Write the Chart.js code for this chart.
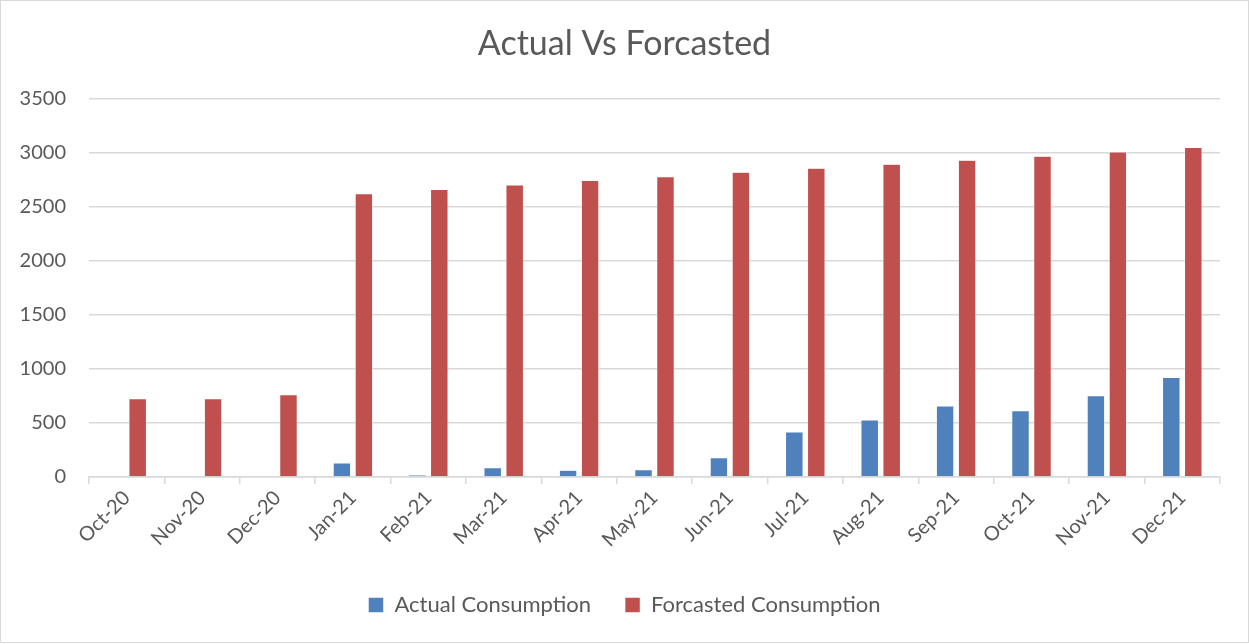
<!DOCTYPE html>
<html>
<head>
<meta charset="utf-8">
<script src="https://cdn.jsdelivr.net/npm/chart.js@4"></script>
<style>
  html, body { margin: 0; padding: 0; background: #fff; }
  #wrap { width: 1247px; height: 641px; border: 1px solid #d9d9d9; }
</style>
</head>
<body>
<div id="wrap"><canvas id="consumptionChart" width="1247" height="641"></canvas></div>
<script>
  // chart data
  const months = ['Oct-20', 'Nov-20', 'Dec-20', 'Jan-21', 'Feb-21', 'Mar-21', 'Apr-21',
      'May-21', 'Jun-21', 'Jul-21', 'Aug-21', 'Sep-21', 'Oct-21', 'Nov-21', 'Dec-21'];
  const actualConsumption = [null, null, null, 130, 18, 85, 62, 66, 178, 416, 527, 658, 614, 751, 921];
  const forecastedConsumption = [725, 725, 762, 2622, 2660, 2702, 2743, 2778, 2820, 2858, 2895, 2932, 2969, 3007, 3050];
  const yTicks = [0, 500, 1000, 1500, 2000, 2500, 3000, 3500];

  const textColor = '#595959';
  const gridColor = '#d9d9d9';
  const fontFamily = 'Lato, "Open Sans", sans-serif';

  const ctx = document.getElementById('consumptionChart').getContext('2d');

  new Chart(ctx, {
      type: 'bar',
      data: {
          labels: months,
          datasets: [{
              label: 'Actual Consumption',
              data: actualConsumption,
              backgroundColor: '#4f81bd',
              borderColor: '#ffffff',
              borderWidth: 0.5
          }, {
              label: 'Forcasted Consumption',
              data: forecastedConsumption,
              backgroundColor: '#c0504d',
              borderColor: '#ffffff',
              borderWidth: 0.5
          }]
      },
      options: {
          responsive: false,
          animation: false,
          categoryPercentage: 0.583,
          barPercentage: 0.795,
          layout: {
              padding: { left: 0, right: 0, top: 0, bottom: 16 }
          },
          plugins: {
              title: {
                  display: true,
                  text: 'Actual Vs Forcasted',
                  color: textColor,
                  font: { family: fontFamily, size: 34, weight: 'normal' },
                  padding: { top: 23, bottom: 34 }
              },
              legend: {
                  position: 'bottom',
                  labels: {
                      color: textColor,
                      font: { family: fontFamily, size: 22 },
                      boxWidth: 15,
                      boxHeight: 15,
                      padding: 34
                  }
              },
              tooltip: { enabled: false }
          },
          scales: {
              x: {
                  afterFit: axis => { axis.height = 83; },
                  grid: {
                      offset: true,
                      drawOnChartArea: false,
                      drawTicks: true,
                      tickLength: 7,
                      color: gridColor,
                      lineWidth: 1.5
                  },
                  border: { color: gridColor, width: 1.5 },
                  ticks: {
                      color: textColor,
                      font: { family: fontFamily, size: 20 },
                      maxRotation: 45,
                      minRotation: 45,
                      padding: 2
                  }
              },
              y: {
                  min: 0,
                  max: 3500,
                  afterFit: axis => { axis.width = 88; },
                  afterBuildTicks: axis => {
                      axis.ticks = yTicks.map(v => ({ value: v }));
                  },
                  grid: {
                      color: gridColor,
                      lineWidth: 1.5,
                      drawTicks: false
                  },
                  border: { display: false },
                  ticks: {
                      color: textColor,
                      font: { family: fontFamily, size: 20 },
                      padding: 23,
                      callback: v => String(v)
                  }
              },
              // empty right margin so the title and legend centre on the whole chart
              margin: {
                  position: 'right',
                  afterFit: axis => { axis.width = 28; },
                  grid: { display: false },
                  border: { display: false },
                  ticks: { display: false }
              }
          }
      }
  });
</script>
</body>
</html>
